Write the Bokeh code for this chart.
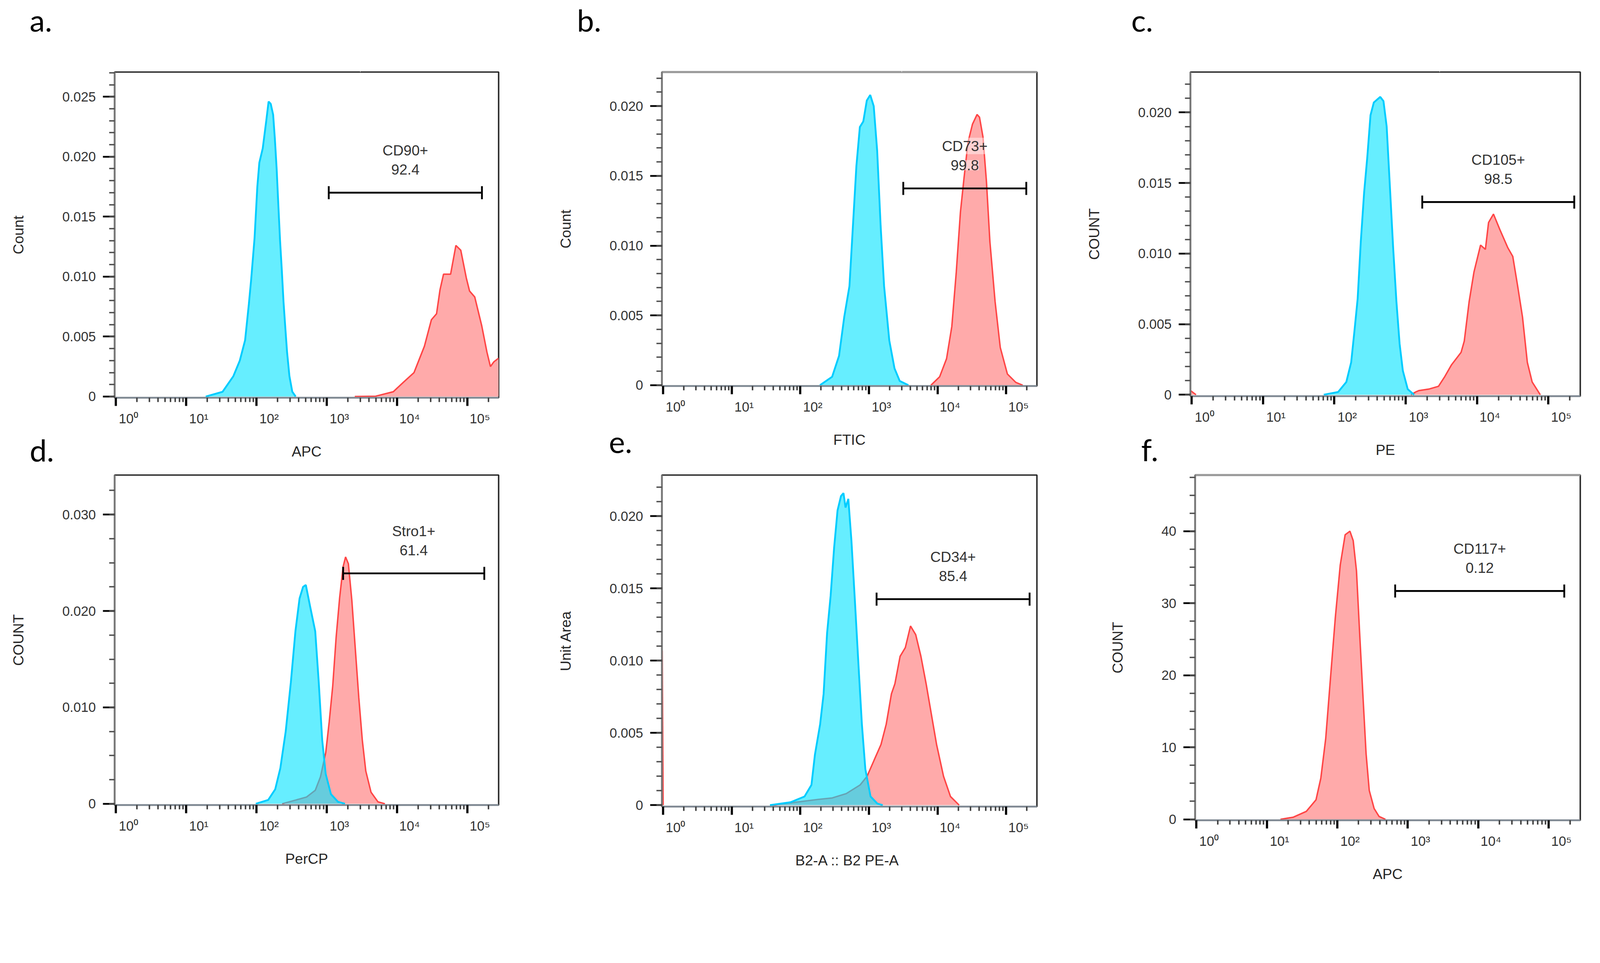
import math
from bokeh.plotting import figure
from bokeh.models import (FixedTicker, LogAxis, LinearAxis, CustomJSTickFormatter, Title,
                          ColumnDataSource)
from bokeh.layouts import row, column
from bokeh.embed import file_html
from bokeh.resources import INLINE
from bokeh.core.properties import value

# ---------------- data ----------------
# panel a : CD90 (APC)
a_iso_x = [19, 33, 47, 58, 69, 78, 84, 94, 103, 110, 123, 138, 149, 160, 173, 183, 194, 205, 217, 230, 243, 258, 273, 295, 324, 362]
a_iso_y = [0, 0.0004, 0.0017, 0.0030, 0.0047, 0.0077, 0.0097, 0.0132, 0.0175, 0.0195, 0.0207, 0.0230, 0.0246, 0.0244, 0.0235, 0.0215, 0.0190, 0.0160, 0.0130, 0.0105, 0.0079, 0.0057, 0.0037, 0.0017, 0.0004, 0]
a_pos_x = [2510, 4990, 8870, 12400, 17500, 24600, 30900, 36600, 41000, 46000, 58000, 69000, 81000, 97000, 108000, 128000, 161000, 191000, 214000, 240000, 280000]
a_pos_y = [0, 0.00003, 0.0004, 0.0012, 0.0020, 0.0042, 0.0064, 0.0069, 0.0089, 0.0102, 0.0102, 0.0126, 0.0122, 0.0099, 0.0088, 0.0083, 0.0059, 0.0037, 0.0025, 0.0029, 0.0032]

# panel b : CD73 (FTIC)
b_iso_x = [193, 290, 366, 436, 519, 583, 655, 736, 826, 929, 1043, 1172, 1316, 1479, 1660, 1977, 2355, 2805, 3753]
b_iso_y = [0, 0.0006, 0.0021, 0.0049, 0.0071, 0.0114, 0.0157, 0.0185, 0.0189, 0.0204, 0.0208, 0.0200, 0.0168, 0.0114, 0.0071, 0.0032, 0.0012, 0.0003, 0]
b_pos_x = [8000, 10700, 13500, 16100, 18700, 21500, 24200, 27700, 32200, 37600, 40800, 45800, 51500, 57800, 68800, 81900, 104000, 138000, 174000]
b_pos_y = [0, 0.0006, 0.0019, 0.0042, 0.0081, 0.0124, 0.0148, 0.0174, 0.0187, 0.0194, 0.0192, 0.0178, 0.0146, 0.0103, 0.0060, 0.0027, 0.0008, 0.0002, 0]

# panel c : CD105 (PE)
c_iso_x = [71, 113, 147, 172, 191, 212, 235, 261, 289, 321, 357, 396, 440, 488, 541, 601, 667, 741, 822, 912, 1067, 1315]
c_iso_y = [0, 0.0002, 0.0009, 0.0023, 0.0045, 0.0068, 0.0109, 0.0143, 0.0168, 0.0198, 0.0207, 0.0209, 0.0211, 0.0208, 0.0190, 0.0147, 0.0104, 0.0066, 0.0036, 0.0017, 0.0004, 0]
c_pos_x = [1183, 1384, 1540, 2100, 2880, 3540, 4360, 5970, 6620, 7750, 9060, 11200, 13100, 14500, 17000, 20900, 27100, 31700, 37100, 43400, 50700, 59300, 77100]
c_pos_y = [0, 0.0002, 0.0003, 0.0004, 0.0006, 0.0013, 0.0021, 0.0030, 0.0038, 0.0066, 0.0087, 0.0106, 0.0103, 0.0122, 0.0128, 0.0117, 0.0104, 0.0098, 0.0077, 0.0055, 0.0023, 0.0009, 0]
c_edge_x = [0.96, 1.15]
c_edge_y = [0.0003, 0]

# panel d : Stro1 (PerCP)
d_iso_x = [98, 147, 185, 219, 261, 309, 359, 411, 461, 505, 580, 687, 771, 864, 968, 1150, 1450, 1820]
d_iso_y = [0, 0.0004, 0.0015, 0.0037, 0.0075, 0.0126, 0.0179, 0.0213, 0.0225, 0.0227, 0.0205, 0.0179, 0.0126, 0.0066, 0.0031, 0.0010, 0.0002, 0]
d_pos_x = [232, 367, 517, 688, 816, 969, 1086, 1218, 1364, 1530, 1714, 1857, 2036, 2281, 2559, 2866, 3214, 3603, 4276, 5370, 6745]
d_pos_y = [0, 0.0004, 0.0007, 0.0014, 0.0028, 0.0053, 0.0085, 0.0122, 0.0173, 0.0214, 0.0246, 0.0256, 0.0249, 0.0211, 0.0160, 0.0110, 0.0066, 0.0034, 0.0012, 0.0002, 0]

# panel e : CD34 (B2-A :: B2 PE-A)
e_iso_x = [36, 72, 115, 145, 163, 194, 218, 245, 276, 310, 348, 391, 425, 455, 500, 555, 624, 701, 788, 885, 1054, 1331, 1585]
e_iso_y = [0, 0.0002, 0.0006, 0.0014, 0.0035, 0.0056, 0.0077, 0.0119, 0.0145, 0.0178, 0.0204, 0.0214, 0.0216, 0.0206, 0.0212, 0.0183, 0.0141, 0.0098, 0.0056, 0.0025, 0.0006, 0.0001, 0]
e_pos_x = [40, 102, 183, 292, 466, 743, 938, 1184, 1496, 1782, 2122, 2384, 2839, 3382, 4027, 4797, 5713, 6805, 8106, 9660, 12200, 15400, 20600]
e_pos_y = [0, 0.00025, 0.0004, 0.0005, 0.0008, 0.0014, 0.0020, 0.0031, 0.0042, 0.0056, 0.0077, 0.0084, 0.0103, 0.0109, 0.0124, 0.0118, 0.0103, 0.0084, 0.0063, 0.0042, 0.0020, 0.0006, 0]
e_edge_x = [0.97, 1.0]
e_edge_y = [0.0107, 0]

# panel f : CD117 (APC)
f_pos_x = [15.6, 23.8, 36.3, 49.8, 58.3, 68.4, 80.1, 93.8, 110, 129, 151, 168, 187, 207, 230, 256, 284, 333, 391, 482]
f_pos_y = [0, 0.3, 1.1, 2.7, 5.7, 11.2, 19.7, 28.1, 35.3, 39.5, 40.0, 38.7, 34.5, 26.0, 17.5, 9.1, 4.0, 1.5, 0.4, 0]

# gates
gate_lo = [1070, 3160, 1706, 1714, 1290, 662]
gate_hi = [162000, 196000, 230600, 175000, 219000, 166000]
gate_level = [0.0170, 0.0141, 0.01365, 0.0239, 0.01426, 31.7]
gate_name = ["CD90+", "CD73+", "CD105+", "Stro1+", "CD34+", "CD117+"]
gate_pct = ["92.4", "99.8", "98.5", "61.4", "85.4", "0.12"]

x_titles = ["APC", "FTIC", "PE", "PerCP", "B2-A :: B2  PE-A", "APC"]
y_titles = ["Count", "Count", "COUNT", "COUNT", "Unit Area", "COUNT"]
panel_letters = ["a.", "b.", "c.", "d.", "e.", "f."]

y_ranges = [(-0.0001, 0.02706), (-0.00006, 0.02244), (-0.0001, 0.02286),
            (-0.00013, 0.0341), (-0.0001, 0.02285), (-0.13, 47.8)]
y_major = [[0, 0.005, 0.010, 0.015, 0.020, 0.025],
           [0, 0.005, 0.010, 0.015, 0.020],
           [0, 0.005, 0.010, 0.015, 0.020],
           [0, 0.010, 0.020, 0.030],
           [0, 0.005, 0.010, 0.015, 0.020],
           [0, 10, 20, 30, 40]]
y_minor_step = [0.001, 0.001, 0.001, 0.0025, 0.001, 2.5]
y_decimals = [3, 3, 3, 3, 3, 0]

x_decades = [1, 10, 100, 1000, 10000, 100000]

# ---------------- styling / layout ----------------
K = 0.929          # page-pixel scale of this viewer
FONT = "Liberation Sans"
CYAN_LINE = "#00CCFF"
CYAN_FILL = "#00E3FF"
RED_LINE = "#FF4545"
RED_FILL = "#FFAAAA"
LABEL_SHIFT = 0.18
GRAY_TOP = [False, True, False, False, False, True]   # panels whose top edge is grey


def S(v):
    return int(round(v * K))


def px(v):
    return "%.1fpx" % (v * K)


# (frame_w, frame_h, left, right, top, bottom) in reference pixels
geom = [
    (1058, 898, 315, 140, 198, 201),
    (1033, 865, 310, 117, 198, 234),
    (1074, 893, 306, 15, 198, 206),
    (1058, 910, 315, 140, 12, 220),
    (1033, 914, 310, 117, 8, 220),
    (1061, 952, 319, 15, 9, 190),
]

series = [
    dict(iso=(a_iso_x, a_iso_y), pos=(a_pos_x, a_pos_y), edge=None),
    dict(iso=(b_iso_x, b_iso_y), pos=(b_pos_x, b_pos_y), edge=None),
    dict(iso=(c_iso_x, c_iso_y), pos=(c_pos_x, c_pos_y), edge=(c_edge_x, c_edge_y)),
    dict(iso=(d_iso_x, d_iso_y), pos=(d_pos_x, d_pos_y), edge=None),
    dict(iso=(e_iso_x, e_iso_y), pos=(e_pos_x, e_pos_y), edge=(e_edge_x, e_edge_y)),
    dict(iso=None, pos=(f_pos_x, f_pos_y), edge=None),
]

x_minor = [m * d for d in x_decades for m in range(2, 10)]
label_ticks = [d * 10 ** LABEL_SHIFT for d in x_decades]

sup_code = ("const sup=['\\u2070','\\u00b9','\\u00b2','\\u00b3','\\u2074','\\u2075'];"
            "const k=Math.round(Math.log10(tick)-%s); return '10'+sup[k];" % LABEL_SHIFT)


def make_panel(i):
    fw, fh, bl, br, bt, bb = geom[i]
    p = figure(x_axis_type="log", x_range=(0.96, 280000), y_range=y_ranges[i],
               frame_width=S(fw), frame_height=S(fh),
               min_border_left=S(bl), min_border_right=S(br),
               min_border_top=S(bt), min_border_bottom=S(bb),
               output_backend="svg", toolbar_location=None,
               background_fill_color="white", border_fill_color="white")
    p.grid.visible = False
    p.outline_line_color = "#262626"
    p.outline_line_width = 4 * K

    s = series[i]
    xs, ys = s["pos"]
    p.varea(x=xs, y1=0, y2=ys, fill_color=RED_FILL, fill_alpha=1.0)
    p.line(xs, ys, line_color=RED_LINE, line_width=4 * K)
    if s["edge"] is not None:
        ex, ey = s["edge"]
        p.varea(x=ex, y1=0, y2=ey, fill_color=RED_FILL, fill_alpha=1.0)
        p.line(ex, ey, line_color=RED_LINE, line_width=4 * K)
    if s["iso"] is not None:
        ix, iy = s["iso"]
        p.varea(x=ix, y1=0, y2=iy, fill_color=CYAN_FILL, fill_alpha=0.6)
        p.line(ix, iy, line_color=CYAN_LINE, line_width=5 * K)

    # gate
    lo, hi, lev = gate_lo[i], gate_hi[i], gate_level[i]
    p.segment(x0=[lo], y0=[lev], x1=[hi], y1=[lev], line_color="black", line_width=5 * K)
    p.scatter(x=[lo, hi], y=[lev, lev], marker="dash", size=36 * K, angle=math.pi / 2,
              line_color="black", line_width=5 * K)
    mid = math.sqrt(lo * hi)
    src = ColumnDataSource(dict(x=[mid, mid], y=[lev, lev], t=[gate_name[i], gate_pct[i]],
                                off=[-117 * K, -64 * K]))
    p.text(x="x", y="y", text="t", y_offset="off", source=src,
           text_font=value(FONT), text_font_size=px(40), text_color="#333333",
           text_align="center", text_baseline="middle",
           background_fill_color="white", background_fill_alpha=0.45)

    # x axis : tick marks only
    ax = p.xaxis[0]
    ax.ticker = FixedTicker(ticks=x_decades, minor_ticks=x_minor)
    ax.formatter = CustomJSTickFormatter(code="return '';")
    ax.major_tick_out = S(23)
    ax.major_tick_in = 0
    ax.minor_tick_out = S(12)
    ax.minor_tick_in = 0
    ax.major_tick_line_width = 6 * K
    ax.major_tick_line_color = "black"
    ax.minor_tick_line_width = 4 * K
    ax.minor_tick_line_color = "#3a3a3a"
    ax.axis_line_width = 5 * K
    ax.axis_line_color = "#808a94"
    ax.major_label_standoff = 0

    # x axis : decade labels (FlowJo puts them just right of the decade marks)
    lab = LogAxis(ticker=FixedTicker(ticks=label_ticks, minor_ticks=[]),
                  formatter=CustomJSTickFormatter(code=sup_code),
                  axis_line_color=None, major_tick_line_color=None, minor_tick_line_color=None,
                  major_tick_out=0, major_tick_in=0, minor_tick_out=0, minor_tick_in=0,
                  major_label_standoff=S(14),
                  axis_label=x_titles[i], axis_label_standoff=S(44))
    lab.major_label_text_font = FONT
    lab.major_label_text_font_size = px(37)
    lab.major_label_text_color = "#333333"
    lab.axis_label_text_font = FONT
    lab.axis_label_text_font_size = px(40)
    lab.axis_label_text_font_style = "normal"
    lab.axis_label_text_color = "#262626"
    p.add_layout(lab, "below")

    # y axis
    ay = p.yaxis[0]
    step = y_minor_step[i]
    n = int(y_ranges[i][1] / step + 1e-9)
    ay.ticker = FixedTicker(ticks=y_major[i], minor_ticks=[k * step for k in range(n + 1)])
    ay.formatter = CustomJSTickFormatter(
        code="return tick==0 ? '0' : tick.toFixed(%d);" % y_decimals[i])
    ay.major_tick_out = S(32)
    ay.major_tick_in = 0
    ay.minor_tick_out = S(15)
    ay.minor_tick_in = 0
    ay.major_tick_line_width = 5 * K
    ay.major_tick_line_color = "black"
    ay.minor_tick_line_width = 4 * K
    ay.minor_tick_line_color = "#4d4d4d"
    ay.axis_line_width = 5 * K
    ay.axis_line_color = "#7a7a7a"
    ay.major_label_standoff = S(19)
    ay.major_label_text_font = FONT
    ay.major_label_text_font_size = px(37)
    ay.major_label_text_color = "#333333"
    ay.axis_label = y_titles[i]
    ay.axis_label_standoff = S(95)
    ay.axis_label_text_font = FONT
    ay.axis_label_text_font_size = px(40)
    ay.axis_label_text_font_style = "normal"
    ay.axis_label_text_color = "#262626"
    return p


panels = [make_panel(i) for i in range(6)]


def letter(text, offset, standoff, valign):
    return Title(text=text, align="left", offset=offset * K, standoff=standoff * K,
                 vertical_align=valign,
                 text_font="Lato", text_font_size=px(84), text_font_style="normal",
                 text_color="black")


def top_axis(height, grey):
    # top axis: optional grey frame edge, plus one white (invisible) tick whose
    # length lifts the panel letter
    ticks = [3000] if height > 0 else []
    return LinearAxis(ticker=FixedTicker(ticks=ticks, minor_ticks=[]),
                      formatter=CustomJSTickFormatter(code="return '';"),
                      axis_line_color="#9a9a9a" if grey else None,
                      axis_line_width=6 * K,
                      major_tick_line_color="white",
                      major_tick_line_width=1, major_tick_line_alpha=1.0,
                      minor_tick_line_color=None, major_tick_out=S(height), major_tick_in=0,
                      minor_tick_out=0, minor_tick_in=0, major_label_standoff=0)


# top-row letters above their frames
above_letters = [(0, -234), (1, -234), (2, -163)]
for k, (pi_, off) in enumerate(above_letters):
    panels[pi_].add_layout(top_axis(94, GRAY_TOP[pi_]), "above")
    panels[pi_].add_layout(letter(panel_letters[k], off, 0, "bottom"), "above")
for pi_ in (3, 4, 5):
    if GRAY_TOP[pi_]:
        panels[pi_].add_layout(top_axis(0, True), "above")

# bottom-row letters hang just under the top-row figures
below_letters = [(0, -234, -161), (1, -146, -97), (2, -136, -153)]
for k, (pi_, off, so) in enumerate(below_letters):
    panels[pi_].add_layout(letter(panel_letters[k + 3], off, so, "top"), "below")

layout = column(row(panels[0], panels[1], panels[2], spacing=0),
                row(panels[3], panels[4], panels[5], spacing=0), spacing=0)

open("out.html", "w", encoding="utf-8").write(file_html(layout, INLINE))
